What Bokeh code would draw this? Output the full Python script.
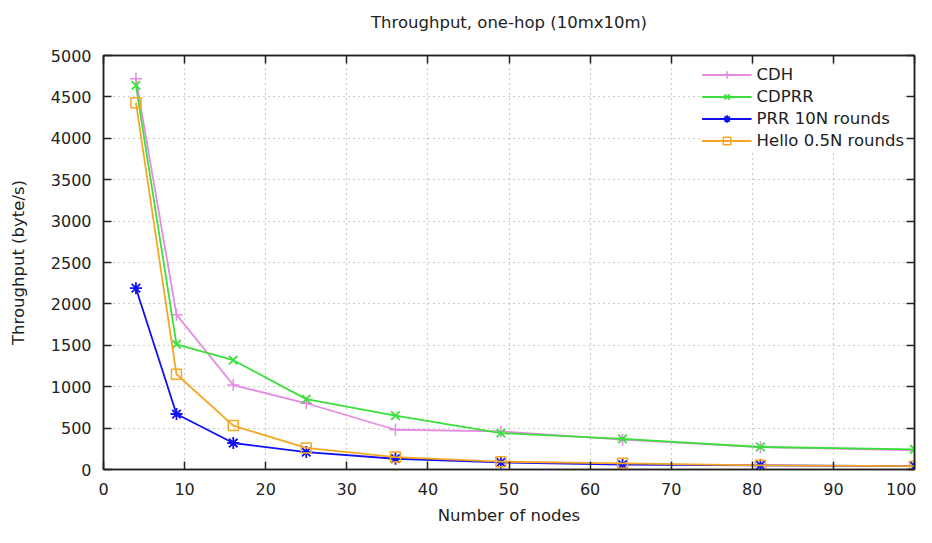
from bokeh.plotting import figure
from bokeh.models import LinearAxis, FixedTicker, Legend, LegendItem, Range1d, CustomJSTickFormatter
from bokeh.embed import file_html
from bokeh.resources import INLINE

nodes = [4, 9, 16, 25, 36, 49, 64, 81, 100]
cdh = [4720, 1870, 1020, 800, 480, 460, 360, 270, 230]
cdprr = [4640, 1510, 1320, 850, 650, 440, 370, 272, 243]
prr = [2190, 670, 320, 210, 130, 85, 60, 50, 40]
hello = [4430, 1150, 530, 260, 150, 95, 75, 50, 40]

x_ticks = list(range(0, 101, 10))
y_ticks = list(range(0, 5001, 500))
title_text = "Throughput, one-hop (10mx10m)"

FONT = "DejaVu Sans"
TXT = "#222222"

p = figure(width=916, height=527, output_backend="svg", toolbar_location=None,
           x_range=Range1d(0, 100), y_range=Range1d(0, 5000),
           min_border_left=103, min_border_right=2, min_border_top=55, min_border_bottom=57)

p.outline_line_color = "#222222"
p.outline_line_width = 1.5

for ax in (p.xaxis[0], p.yaxis[0]):
    ax.major_tick_in = 8
    ax.major_tick_out = 0
    ax.minor_tick_in = 0
    ax.minor_tick_out = 0
    ax.axis_line_color = "#222222"
    ax.axis_line_width = 1.5
    ax.major_tick_line_color = "#222222"
    ax.major_tick_line_width = 1.5
    ax.major_label_text_font = FONT
    ax.major_label_text_font_size = "16px"
    ax.major_label_text_color = TXT
    ax.axis_label_text_font = FONT
    ax.axis_label_text_font_size = "16.5px"
    ax.axis_label_text_font_style = "normal"
    ax.axis_label_text_color = TXT

p.xaxis[0].ticker = FixedTicker(ticks=x_ticks)
p.yaxis[0].ticker = FixedTicker(ticks=y_ticks)
p.xaxis[0].axis_label = "Number of nodes"
p.yaxis[0].axis_label = "Throughput (byte/s)"
p.xaxis[0].major_label_standoff = 13
p.xaxis[0].axis_label_standoff = 8
p.yaxis[0].major_label_standoff = 12
p.yaxis[0].axis_label_standoff = 20

empty = CustomJSTickFormatter(code="return ''")
# mirrored top axis; its axis label serves as the chart title
ax_top = LinearAxis(ticker=FixedTicker(ticks=x_ticks), formatter=empty,
                    major_label_standoff=0, major_label_text_font_size="1px",
                    major_tick_in=8, major_tick_out=0, minor_tick_in=0, minor_tick_out=0,
                    axis_line_color="#222222", major_tick_line_color="#222222",
                    major_tick_line_width=1.5, axis_line_width=1.5,
                    axis_label=title_text, axis_label_standoff=24,
                    axis_label_text_font=FONT, axis_label_text_font_size="16.5px",
                    axis_label_text_font_style="normal", axis_label_text_color=TXT)
ax_right = LinearAxis(ticker=FixedTicker(ticks=y_ticks), formatter=empty,
                      major_label_standoff=0, major_label_text_font_size="1px",
                      major_tick_in=8, major_tick_out=0, minor_tick_in=0, minor_tick_out=0,
                      axis_line_color="#222222", major_tick_line_color="#222222",
                      major_tick_line_width=1.5, axis_line_width=1.5)
p.add_layout(ax_top, "above")
p.add_layout(ax_right, "right")

for g in (p.xgrid[0], p.ygrid[0]):
    g.grid_line_color = "#999999"
    g.grid_line_dash = "1 4"
    g.grid_line_width = 1.2
p.xgrid[0].ticker = FixedTicker(ticks=x_ticks)
p.ygrid[0].ticker = FixedTicker(ticks=y_ticks)

c_cdh = "#e58ae5"
c_cdprr = "#3ae03a"
c_prr = "#1010f0"
c_hello = "#f5a623"

l1 = p.line(nodes, cdh, line_color=c_cdh, line_width=1.8)
m1 = p.scatter(nodes, cdh, marker="cross", size=12, line_color=c_cdh, line_width=1.5)
l2 = p.line(nodes, cdprr, line_color=c_cdprr, line_width=1.8)
m2 = p.scatter(nodes, cdprr, marker="x", size=12, line_color=c_cdprr, line_width=1.8)
l3 = p.line(nodes, prr, line_color=c_prr, line_width=1.8)
m3 = p.scatter(nodes, prr, marker="asterisk", size=12, line_color=c_prr, line_width=1.8)
l4 = p.line(nodes, hello, line_color=c_hello, line_width=1.8)
m4 = p.scatter(nodes, hello, marker="square", size=10, line_color=c_hello, fill_color=None, line_width=1.5)

legend = Legend(items=[
    LegendItem(label="CDH", renderers=[l1, m1]),
    LegendItem(label="CDPRR", renderers=[l2, m2]),
    LegendItem(label="PRR 10N rounds", renderers=[l3, m3]),
    LegendItem(label="Hello 0.5N rounds", renderers=[l4, m4]),
], location="top_right")
legend.border_line_color = None
legend.background_fill_color = "white"
legend.background_fill_alpha = 1.0
legend.label_text_font = FONT
legend.label_text_font_size = "16.5px"
legend.label_text_color = TXT
legend.glyph_width = 50
legend.label_height = 19
legend.glyph_height = 19
legend.spacing = 3
legend.padding = 10
legend.margin = 10
p.add_layout(legend)

open("out.html", "w").write(file_html(p, INLINE))
